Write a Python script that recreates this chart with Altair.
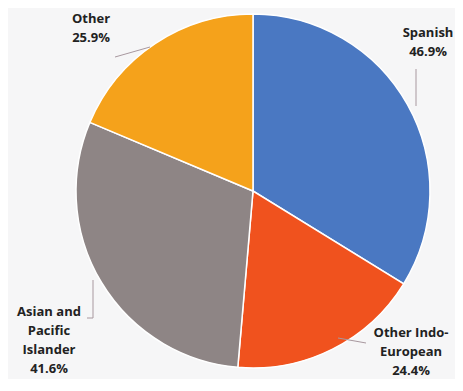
import altair as alt
import pandas as pd

# ---- data ----
categories = ["Spanish", "Other Indo-European", "Asian and Pacific Islander", "Other"]
values = [46.9, 24.4, 41.6, 25.9]
label_text = ["Spanish\n46.9%", "Other Indo-\nEuropean\n24.4%",
              "Asian and\nPacific\nIslander\n41.6%", "Other\n25.9%"]
colors = ["#4a78c2", "#f0521e", "#8e8585", "#f5a21b"]

# ---- layout (annotation positions, pixels in plot area) ----
label_x = [420, 403, 41, 83]
label_y = [19, 319, 298, 5]
leader_x = [408, 330, 85, 85, 107]
leader_y = [61, 330, 272, 310, 49]
leader_x2 = [408, 358, 85, 79, 142]
leader_y2 = [98, 335, 310, 310, 39]

df = pd.DataFrame({"category": categories, "value": values,
                   "order": list(range(len(categories)))})
labels = pd.DataFrame({"text": label_text, "x": label_x, "y": label_y})
leaders = pd.DataFrame({"x": leader_x, "y": leader_y, "x2": leader_x2, "y2": leader_y2})

pie = alt.Chart(df).mark_arc(outerRadius=177, stroke="white", strokeWidth=1.5).encode(
    theta=alt.Theta("value:Q", stack=True),
    color=alt.Color("category:N", scale=alt.Scale(domain=categories, range=colors), legend=None),
    order=alt.Order("order:Q"),
    x=alt.value(245),
    y=alt.value(183),
)

lines = alt.Chart(leaders).mark_rule(color="#a8989f", strokeWidth=1).encode(
    x=alt.X("x:Q", scale=None),
    y=alt.Y("y:Q", scale=None),
    x2="x2:Q",
    y2="y2:Q",
)

text = alt.Chart(labels).mark_text(
    font="Open Sans", fontSize=13, fontWeight="bold", color="#222222",
    align="center", baseline="top", lineBreak="\n", lineHeight=19,
).encode(
    x=alt.X("x:Q", scale=None),
    y=alt.Y("y:Q", scale=None),
    text="text:N",
)

chart = alt.layer(pie, lines, text).properties(
    width=447, height=371, padding=0,
    autosize=alt.AutoSizeParams(type="none"),
    background="#f6f6f7",
).configure_view(stroke=None)

chart.save("out.html", embed_options={"renderer": "svg", "actions": False})
